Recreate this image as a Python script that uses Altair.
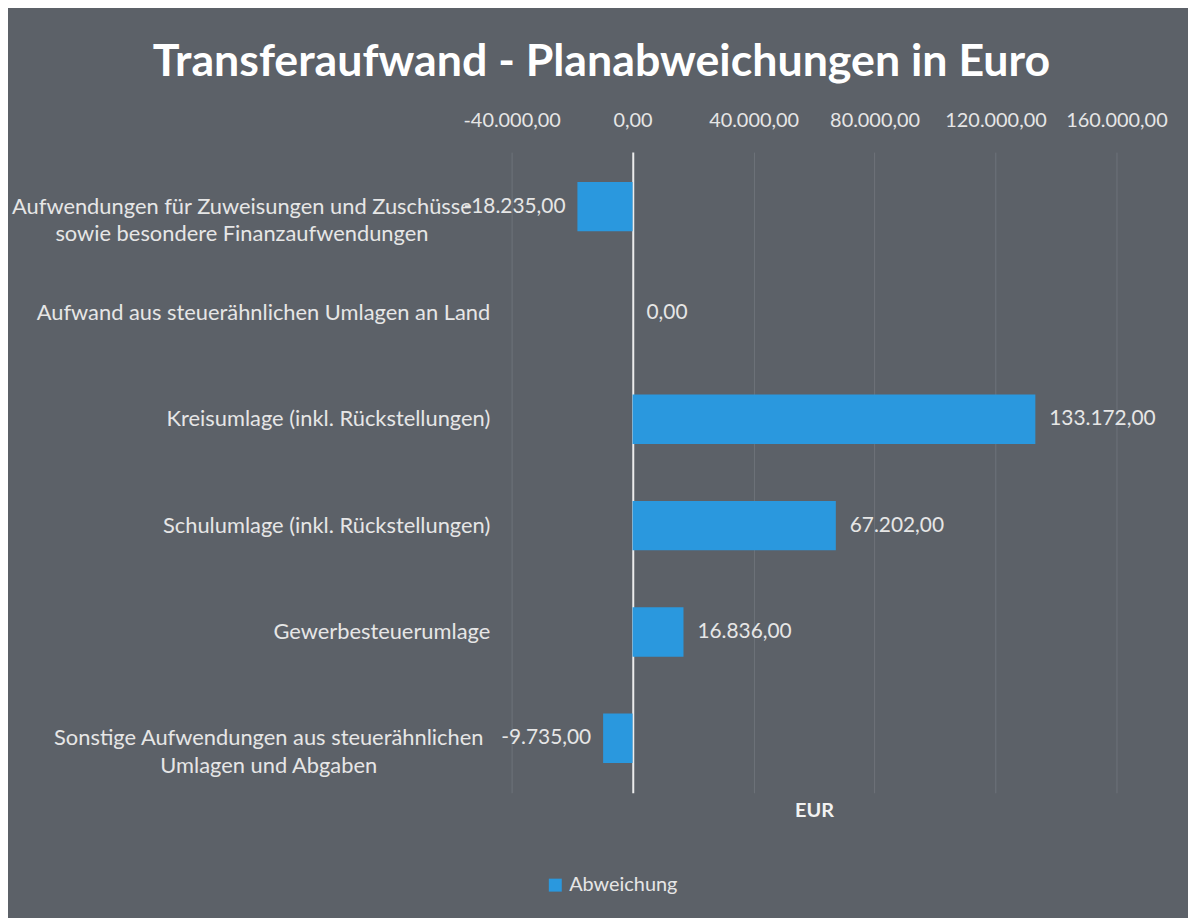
import altair as alt
import pandas as pd

categories = [
    "Aufwendungen für Zuweisungen und Zuschüsse|sowie besondere Finanzaufwendungen",
    "Aufwand aus steuerähnlichen Umlagen an Land",
    "Kreisumlage (inkl. Rückstellungen)",
    "Schulumlage (inkl. Rückstellungen)",
    "Gewerbesteuerumlage",
    "Sonstige Aufwendungen aus steuerähnlichen|Umlagen und Abgaben",
]
values = [-18235.00, 0.00, 133172.00, 67202.00, 16836.00, -9735.00]
series_name = "Abweichung"
x_ticks = [-40000, 0, 40000, 80000, 120000, 160000]

df = pd.DataFrame({"Kategorie": categories, "Wert": values, "Serie": [series_name] * len(values)})

FONT = "Lato"
BAR = "#2a98de"
TXT = "#e6e6e6"
BG = "#5c6168"

x_scale = alt.Scale(domain=[-40000, 160000], nice=False, zero=False)
y_scale = alt.Scale(paddingInner=0.535, paddingOuter=0.28)

y_enc = alt.Y(
    "Kategorie:N",
    sort=None,
    scale=y_scale,
    title=None,
    axis=alt.Axis(
        domain=False,
        ticks=False,
        grid=False,
        labelExpr="split(datum.label, '|')",
        labelFont=FONT,
        labelFontSize=22,
        labelColor=TXT,
        labelLimit=600,
        labelLineHeight=28,
        labelAlign={"condition": {"test": "indexof(datum.value, '|') >= 0", "value": "center"}, "value": "right"},
        labelPadding={
            "condition": [
                {"test": "indexof(datum.value, 'Zuweisungen') >= 0", "value": 272},
                {"test": "indexof(datum.value, 'Sonstige') >= 0", "value": 245},
            ],
            "value": 22,
        },
    ),
)

bars = alt.Chart(df).mark_bar(color=BAR).encode(
    x=alt.X(
        "Wert:Q",
        scale=x_scale,
        title=None,
        axis=alt.Axis(
            orient="top",
            values=x_ticks,
            format=",.2f",
            domain=False,
            ticks=False,
            labelOverlap=False,
            labelFlush=False,
            labelFont=FONT,
            labelFontSize=20,
            labelColor=TXT,
            labelPadding=22,
            grid=True,
            gridColor={"condition": {"test": "datum.value == 0", "value": "#ececec"}, "value": "#6e737a"},
            gridWidth={"condition": {"test": "datum.value == 0", "value": 2}, "value": 1},
        ),
    ),
    y=y_enc,
    fill=alt.Fill(
        "Serie:N",
        scale=alt.Scale(range=[BAR]),
        legend=alt.Legend(
            title=None,
            orient="none",
            legendX=34,
            legendY=728,
            symbolType="square",
            symbolSize=170,
            labelFont=FONT,
            labelFontSize=20,
            labelColor=TXT,
        ),
    ),
)

labels = alt.Chart(df).mark_text(
    font=FONT,
    fontSize=21,
    color=TXT,
    baseline="middle",
    align=alt.expr("datum.Wert < 0 ? 'right' : 'left'"),
    dx=alt.expr("datum.Wert < 0 ? -12 : 14"),
).encode(
    x=alt.X(
        "Wert:Q",
        scale=x_scale,
        axis=alt.Axis(
            orient="bottom",
            title="EUR",
            labels=False,
            ticks=False,
            domain=False,
            grid=False,
            titleFont=FONT,
            titleFontSize=20,
            titleFontWeight="bold",
            titleColor="#f2f2f2",
            titlePadding=8,
        ),
    ),
    y=y_enc,
    text=alt.Text("Wert:Q", format=",.2f"),
)

chart = (
    alt.layer(bars, labels)
    .resolve_axis(x="independent")
    .properties(
        width=609,
        height=645,
        background=BG,
        autosize=alt.AutoSizeParams(type="none"),
        padding={"left": 507, "top": 142, "right": 72, "bottom": 123},
        title=alt.Title(
            "Transferaufwand - Planabweichungen in Euro",
            font=FONT,
            fontSize=45,
            fontWeight="bold",
            color="#ffffff",
            anchor="middle",
            frame="group",
            dx=-214,
            offset=26,
        ),
    )
    .configure_view(stroke=None)
)

chart.save(
    "out.html",
    embed_options={
        "renderer": "svg",
        "actions": False,
        "formatLocale": {"decimal": ",", "thousands": ".", "grouping": [3], "currency": ["", " €"], "minus": "-"},
    },
)
